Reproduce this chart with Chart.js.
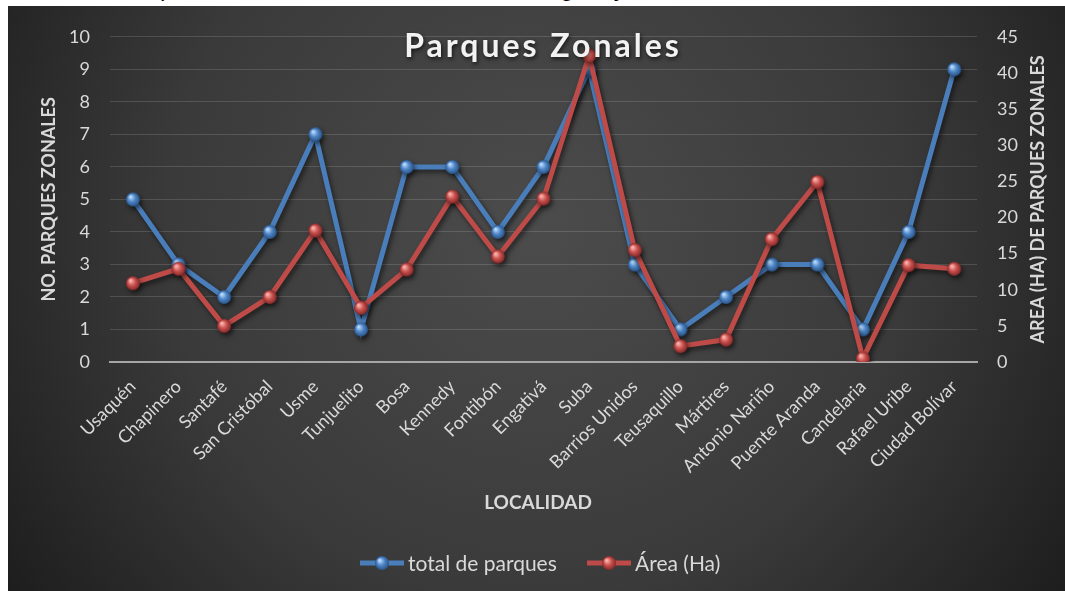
<!DOCTYPE html>
<html>
<head>
<meta charset="utf-8">
<script src="https://cdn.jsdelivr.net/npm/chart.js@4.4.0/dist/chart.umd.min.js"></script>
<style>
  html, body { margin: 0; padding: 0; background: #ffffff; width: 1065px; height: 591px; overflow: hidden; }
  #caption { position: absolute; left: 4px; top: -26px; font: 24px "Liberation Sans", Arial, sans-serif; color: #000; white-space: nowrap; z-index: 0; }
  #wrap { position: absolute; left: 8px; top: 6px; width: 1057px; height: 585px; z-index: 1; }
</style>
</head>
<body>
<div id="caption">Gráfica 4. Parques zonales en las localidades de Bogotá y el área de los mismos</div>
<div id="wrap"><canvas id="c" width="1057" height="585"></canvas></div>
<script>
const categories = ["Usaquén","Chapinero","Santafé","San Cristóbal","Usme","Tunjuelito","Bosa","Kennedy","Fontibón","Engativá","Suba","Barrios Unidos","Teusaquillo","Mártires","Antonio Nariño","Puente Aranda","Candelaria","Rafael Uribe","Ciudad Bolívar"];
const totalParques = [5,3,2,4,7,1,6,6,4,6,9,3,1,2,3,3,1,4,9];
const areaHa = [10.9,12.9,5.0,9.0,18.2,7.5,12.8,22.9,14.6,22.6,42.4,15.5,2.2,3.1,17.0,24.9,0.5,13.4,12.9];
const leftTicks = [0,1,2,3,4,5,6,7,8,9,10];
const rightTicks = [0,5,10,15,20,25,30,35,40,45];
const chartTitle = "Parques Zonales";
const leftTitle = "NO. PARQUES ZONALES";
const rightTitle = "AREA (HA) DE PARQUES ZONALES";
const xTitle = "LOCALIDAD";
const seriesNames = ["total de parques", "Área (Ha)"];

const BLUE = "#4a7ebb", RED = "#be4b48";
const FONT = "Lato, 'Open Sans', sans-serif";
const TXT = "#d9d9d9";

function sphere(light, mid, dark, r) {
  const s = r * 2 + 2;
  const cv = document.createElement('canvas');
  cv.width = s; cv.height = s;
  const g = cv.getContext('2d');
  const c = s / 2;
  const grad = g.createRadialGradient(c - r * 0.35, c - r * 0.4, r * 0.1, c, c, r);
  grad.addColorStop(0, light);
  grad.addColorStop(0.5, mid);
  grad.addColorStop(1, dark);
  g.fillStyle = grad;
  g.beginPath(); g.arc(c, c, r, 0, Math.PI * 2); g.fill();
  return cv;
}
const blueBall = sphere("#b9dbff", "#4f86c6", "#2a5488", 7);
const redBall = sphere("#ffb3b0", "#c9524e", "#84282a", 7);

const bgPlugin = {
  id: 'bg',
  beforeDraw(chart) {
    const ctx = chart.ctx, w = chart.width, h = chart.height;
    ctx.save();
    const g = ctx.createRadialGradient(w * 0.5, h * 0.38, 20, w * 0.5, h * 0.38, w * 0.62);
    g.addColorStop(0, "#4b4b4b");
    g.addColorStop(0.55, "#3a3a3a");
    g.addColorStop(1, "#1c1c1c");
    ctx.fillStyle = g;
    ctx.fillRect(0, 0, w, h);
    ctx.restore();
  },
  beforeDatasetsDraw(chart) {
    const ctx = chart.ctx;
    ctx.save();
    ctx.shadowColor = "rgba(0,0,0,0.55)";
    ctx.shadowBlur = 5;
    ctx.shadowOffsetX = 2;
    ctx.shadowOffsetY = 3;
  },
  afterDatasetsDraw(chart) {
    chart.ctx.restore();
  },
  afterDraw(chart) {
    const ctx = chart.ctx, a = chart.chartArea;
    ctx.save();
    // title
    ctx.font = "bold 32px " + FONT;
    ctx.letterSpacing = "3px";
    ctx.textAlign = "center";
    ctx.textBaseline = "middle";
    ctx.shadowColor = "rgba(0,0,0,0.7)";
    ctx.shadowBlur = 4; ctx.shadowOffsetX = 1; ctx.shadowOffsetY = 2;
    ctx.fillStyle = "#f2f2f2";
    ctx.fillText(chartTitle, 535, 41);
    ctx.letterSpacing = "0px";
    ctx.shadowColor = "transparent";
    // axis titles
    ctx.fillStyle = TXT;
    ctx.font = "bold 18px " + FONT;
    const cy = (a.top + a.bottom) / 2;
    ctx.save(); ctx.translate(41, cy); ctx.rotate(-Math.PI / 2); ctx.fillText(leftTitle, 0, 0); ctx.restore();
    ctx.save(); ctx.translate(1030, cy); ctx.rotate(-Math.PI / 2); ctx.fillText(rightTitle, 0, 0); ctx.restore();
    ctx.font = "bold 19px " + FONT;
    ctx.fillText(xTitle, 530, 497);
    // legend
    const items = [
      { x: 352, color: BLUE, ball: blueBall, label: chart.data.datasets[0].label },
      { x: 579, color: RED, ball: redBall, label: chart.data.datasets[1].label }
    ];
    const ly = 557;
    ctx.font = "21px " + FONT;
    ctx.textAlign = "left";
    items.forEach(it => {
      ctx.strokeStyle = it.color; ctx.lineWidth = 5; ctx.lineCap = "butt";
      ctx.beginPath(); ctx.moveTo(it.x, ly); ctx.lineTo(it.x + 44, ly); ctx.stroke();
      ctx.drawImage(it.ball, it.x + 22 - it.ball.width / 2, ly - it.ball.height / 2);
      ctx.fillStyle = TXT;
      ctx.fillText(it.label, it.x + 48, ly + 1);
    });
    ctx.restore();
  }
};

new Chart(document.getElementById('c'), {
  type: 'line',
  data: {
    labels: categories,
    datasets: [
      { label: seriesNames[0], data: totalParques, yAxisID: 'y', borderColor: BLUE, backgroundColor: BLUE,
        borderWidth: 5, pointStyle: blueBall, pointRadius: 7, pointHoverRadius: 7, tension: 0, order: 1 },
      { label: seriesNames[1], data: areaHa, yAxisID: 'y1', borderColor: RED, backgroundColor: RED,
        borderWidth: 5, pointStyle: redBall, pointRadius: 7, pointHoverRadius: 7, tension: 0, order: 0 }
    ]
  },
  options: {
    responsive: false,
    animation: false,
    devicePixelRatio: 1,
    layout: { padding: { top: 24, left: 0, right: 0, bottom: 0 } },
    plugins: { legend: { display: false }, title: { display: false }, tooltip: { enabled: false } },
    scales: {
      x: {
        offset: true,
        grid: { display: false, drawTicks: false },
        border: { display: true, color: "#a6a6a6", width: 2 },
        ticks: { color: TXT, font: { family: FONT, size: 18 }, minRotation: 45, maxRotation: 45, padding: 14, autoSkip: false },
        afterFit(s) { s.height = 229; }
      },
      y: {
        position: 'left', min: 0, max: 10,
        afterBuildTicks(s) { s.ticks = leftTicks.map(v => ({ value: v })); },
        grid: { color: "rgba(255,255,255,0.14)", lineWidth: 1, drawTicks: false },
        border: { display: false },
        ticks: { color: TXT, font: { family: FONT, size: 18 }, padding: 20 },
        afterFit(s) { s.width = 102; }
      },
      y1: {
        position: 'right', min: 0, max: 45,
        afterBuildTicks(s) { s.ticks = rightTicks.map(v => ({ value: v })); },
        grid: { display: false, drawTicks: false },
        border: { display: false },
        ticks: { color: TXT, font: { family: FONT, size: 18 }, padding: 20 },
        afterFit(s) { s.width = 88; }
      }
    }
  },
  plugins: [bgPlugin]
});
</script>
</body>
</html>
